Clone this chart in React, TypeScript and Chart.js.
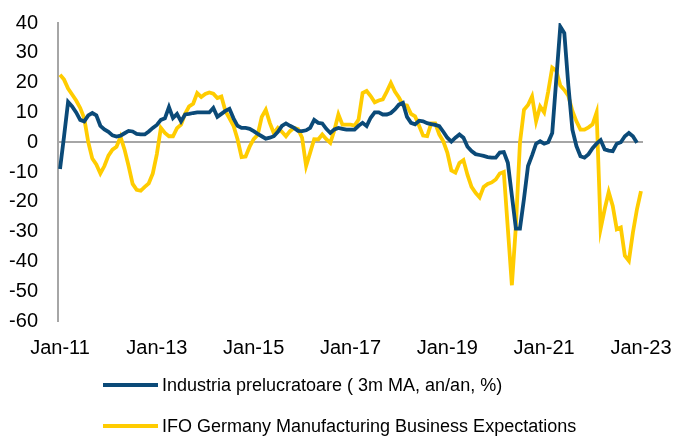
import React, { useEffect, useRef } from "react";
import { Chart, registerables } from "chart.js";

Chart.register(...registerables);

// Monthly values starting Jan-2011
const industriaValues: number[] = [
  -9, 2, 13.5, 12, 10, 7.5, 7, 9, 9.8, 9,
  5.5, 4.3, 3.5, 2.3, 1.9, 2.2, 3, 3.8, 3.6, 2.8,
  2.6, 2.6, 3.6, 4.8, 5.8, 7.5, 8, 11.8, 8.1, 9.5,
  7, 9.3, 9.5, 9.8, 10, 10, 10, 10, 11.5, 8.5,
  9.5, 10.5, 11.2, 8, 5.5, 4.8, 4.8, 4.5, 3.7, 2.8,
  2, 1.2, 1.5, 2, 3.5, 5.5, 6.3, 5.5, 4.8, 3.8,
  3.7, 4, 4.8, 7.5, 6.5, 6.3, 4.5, 3.1, 4.3, 4.8,
  4.5, 4.2, 4.2, 4.2, 5.5, 6.5, 5.4, 8.2, 10, 10,
  9.3, 9.3, 9.8, 11, 12.6, 13.2, 8.5, 6.5, 6, 7.2,
  7, 6.4, 6.1, 5.8, 5.4, 3.5, 1.5, 0.2, 1.5, 2.6,
  1.5, -1.5, -3, -4, -4.3, -4.6, -5, -5.2, -5.2, -3.5,
  -3.3, -6.9, -18, -29, -29, -19, -8, -4.4, -0.5, 0.3,
  -0.5, 0, 3.1, 21, 38.8, 36.6, 19, 4.2, -1.3, -4.7,
  -5.2, -4, -2, -0.5, 0.7, -2.4, -2.8, -3, -0.5, 0,
  2, 3.1, 2, -0.2,
];

const ifoValues: number[] = [
  22.6, 21, 18, 16, 14, 11.5, 8, 0, -5.5, -7.5,
  -10.5, -8, -4.5, -2.5, -1.5, 1.8, -2.5, -8, -14, -16,
  -16.3, -15, -13.8, -10.5, -4, 4.8, 3.1, 2, 2, 4.7,
  5.9, 9.5, 12, 12.9, 16.5, 15.2, 16.2, 16.7, 16.3, 14.8,
  15.3, 10.5, 8, 5.5, 1, -5, -4.8, -1.5, 1, 2.5,
  8.5, 10.9, 6.5, 3, 4.8, 3.5, 2, 3.7, 4.8, 4.4,
  1.5, -8, -3.5, 1, 0.9, 2.6, 1, -0.2, 4, 9.3,
  5.9, 5.9, 5.9, 5.6, 7.6, 16.5, 17.2, 15.5, 13.4, 14,
  14.4, 17, 19.9, 17, 15, 12.5, 12.3, 9.5, 8.7, 5.5,
  2.2, 2, 6.3, 6.3, 2.6, 0.3, -3.5, -9.5, -10.2, -7,
  -6, -11, -15, -17, -18.5, -15, -14, -13.5, -12.5, -10.5,
  -10, -29, -48, -28, -0.2, 10.9, 12.5, 15.4, 7, 12,
  10, 17, 25, 24, 19, 17.5, 15.5, 10.5, 7, 4.2,
  4.2, 5, 6, 10, -29, -22.5, -16.7, -21.4, -29.2, -28.6,
  -38.1, -39.8, -30.3, -22.5, -16.4,
];

const xTickLabels: string[] = ["Jan-11", "Jan-13", "Jan-15", "Jan-17", "Jan-19", "Jan-21", "Jan-23"];
const yTicks: number[] = [-60, -50, -40, -30, -20, -10, 0, 10, 20, 30, 40];
const seriesNames: string[] = [
  "Industria prelucratoare ( 3m MA, an/an, %)",
  "IFO Germany Manufacturing Business Expectations",
];
const seriesColors: string[] = ["#0B4A78", "#FFCC00"];

const FONT = '"Liberation Sans", Arial, sans-serif';

export default function App() {
  const canvasRef = useRef<HTMLCanvasElement | null>(null);

  useEffect(() => {
    document.body.style.margin = "0";
    const canvas = canvasRef.current;
    if (!canvas) return;
    const chart = new Chart(canvas, {
      type: "line",
      data: {
        datasets: [
          {
            label: seriesNames[0],
            data: industriaValues.map((v, i) => ({ x: i, y: v })),
            borderColor: seriesColors[0],
            backgroundColor: seriesColors[0],
            borderWidth: 3.8,
            pointRadius: 0,
            tension: 0,
            fill: false,
          },
          {
            label: seriesNames[1],
            data: ifoValues.map((v, i) => ({ x: i, y: v })),
            borderColor: seriesColors[1],
            backgroundColor: seriesColors[1],
            borderWidth: 3.8,
            pointRadius: 0,
            tension: 0,
            fill: false,
          },
        ],
      },
      options: {
        responsive: false,
        animation: false,
        layout: { padding: { left: 0, right: 33, top: 23, bottom: 66 } },
        plugins: {
          legend: { display: false },
          tooltip: { enabled: false },
        },
        scales: {
          x: {
            type: "linear",
            min: -0.5,
            max: 144.5,
            grid: { display: false },
            border: { display: false },
            afterBuildTicks: (scale: any) => {
              scale.ticks = xTickLabels.map((_, i) => ({ value: i * 24 }));
            },
            afterFit: (scale: any) => {
              scale.height = 50;
              scale.paddingLeft = 0;
              scale.paddingRight = 0;
            },
            ticks: {
              autoSkip: false,
              maxRotation: 0,
              padding: 7,
              color: "#000",
              font: { family: FONT, size: 20 },
              callback: (v: any) => xTickLabels[Math.round(Number(v) / 24)] ?? "",
            },
          },
          y: {
            min: -60,
            max: 40,
            afterBuildTicks: (scale: any) => {
              scale.ticks = yTicks.map((v) => ({ value: v }));
            },
            afterFit: (scale: any) => {
              scale.width = 58;
              scale.paddingTop = 0;
              scale.paddingBottom = 0;
            },
            grid: {
              drawTicks: false,
              color: (ctx: any) => (ctx.tick && ctx.tick.value === 0 ? "#A6A6A6" : "rgba(0,0,0,0)"),
              lineWidth: 2,
            },
            border: { display: true, color: "#A6A6A6", width: 2 },
            ticks: {
              padding: 20,
              color: "#000",
              font: { family: FONT, size: 20 },
            },
          },
        },
      },
    });
    return () => chart.destroy();
  }, []);

  const legendRows = [385, 426];

  return (
    <div style={{ position: "relative", width: 676, height: 437, background: "#fff" }}>
      <canvas ref={canvasRef} width={676} height={437} style={{ display: "block" }} />
      {seriesNames.map((name, i) => (
        <div
          key={name}
          style={{
            position: "absolute",
            left: 103,
            top: legendRows[i] - 12,
            height: 24,
            display: "flex",
            alignItems: "center",
            fontFamily: FONT,
            fontSize: 18,
            color: "#000",
            whiteSpace: "nowrap",
          }}
        >
          <span style={{ display: "inline-block", width: 55, height: 4, background: seriesColors[i], marginRight: 4 }} />
          <span>{name}</span>
        </div>
      ))}
    </div>
  );
}
